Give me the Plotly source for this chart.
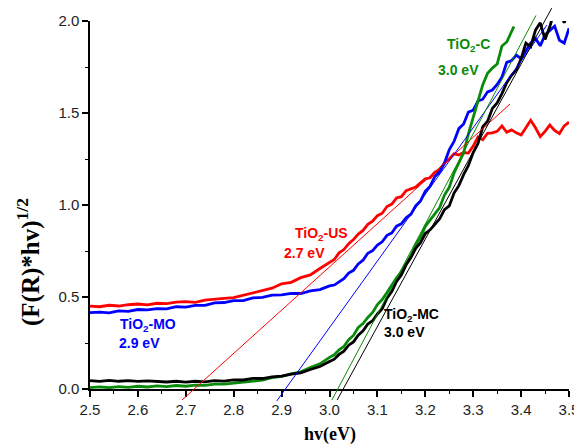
import plotly.graph_objects as go

# ---------------- data ----------------
red_x = [2.50, 2.52, 2.54, 2.56, 2.58, 2.60, 2.62, 2.64, 2.66, 2.68, 2.70, 2.72, 2.74, 2.76, 2.78,
         2.80, 2.82, 2.84, 2.86, 2.88, 2.90, 2.92, 2.94, 2.96, 2.98, 3.00, 3.01, 3.02, 3.03, 3.04,
         3.05, 3.06, 3.07, 3.08, 3.09, 3.10, 3.11, 3.12, 3.13, 3.14, 3.15, 3.16, 3.17, 3.18, 3.19,
         3.20, 3.21, 3.22, 3.23, 3.24, 3.25, 3.26, 3.27, 3.28, 3.29, 3.30, 3.31, 3.32, 3.33, 3.34,
         3.35, 3.36, 3.37, 3.38, 3.39, 3.40, 3.41, 3.42, 3.43, 3.44, 3.45, 3.46, 3.47, 3.48, 3.49, 3.50]
red_y = [0.450, 0.447, 0.455, 0.451, 0.458, 0.462, 0.457, 0.466, 0.464, 0.472, 0.475, 0.471, 0.483, 0.486, 0.492,
         0.497, 0.510, 0.522, 0.535, 0.548, 0.572, 0.580, 0.605, 0.620, 0.655, 0.690, 0.704, 0.740, 0.758, 0.790,
         0.812, 0.842, 0.862, 0.895, 0.912, 0.942, 0.955, 0.992, 1.005, 1.038, 1.045, 1.078, 1.086, 1.098, 1.120,
         1.142, 1.148, 1.178, 1.190, 1.228, 1.250, 1.278, 1.272, 1.285, 1.282, 1.320, 1.370, 1.355, 1.390, 1.392,
         1.400, 1.430, 1.395, 1.408, 1.392, 1.380, 1.420, 1.460, 1.420, 1.372, 1.400, 1.435, 1.405, 1.388, 1.430, 1.450]

blue_x = red_x
blue_y = [0.415, 0.418, 0.414, 0.425, 0.422, 0.432, 0.430, 0.437, 0.436, 0.447, 0.445, 0.455, 0.454, 0.468, 0.470,
          0.480, 0.480, 0.495, 0.498, 0.510, 0.512, 0.520, 0.519, 0.533, 0.540, 0.560, 0.565, 0.585, 0.600, 0.630,
          0.645, 0.680, 0.700, 0.738, 0.752, 0.782, 0.800, 0.835, 0.848, 0.885, 0.898, 0.930, 0.950, 0.995, 1.022,
          1.075, 1.102, 1.155, 1.180, 1.228, 1.300, 1.345, 1.415, 1.440, 1.505, 1.515, 1.565, 1.575, 1.615, 1.625,
          1.655, 1.695, 1.775, 1.785, 1.815, 1.795, 1.835, 1.880, 1.905, 1.865, 1.925, 1.950, 1.972, 1.895, 1.880, 1.960]

black_x = red_x
black_y = [0.045, 0.041, 0.047, 0.042, 0.046, 0.041, 0.044, 0.040, 0.038, 0.042, 0.037, 0.042, 0.039, 0.045, 0.043,
           0.050, 0.049, 0.058, 0.057, 0.066, 0.070, 0.081, 0.088, 0.106, 0.122, 0.150, 0.162, 0.188, 0.206, 0.238,
           0.256, 0.293, 0.316, 0.353, 0.371, 0.408, 0.436, 0.494, 0.530, 0.585, 0.620, 0.675, 0.714, 0.765, 0.795,
           0.845, 0.865, 0.895, 0.925, 0.975, 0.995, 1.065, 1.105, 1.165, 1.215, 1.285, 1.335, 1.425, 1.455, 1.525,
           1.555, 1.605, 1.665, 1.705, 1.735, 1.795, 1.880, 1.860, 1.950, 1.990, 1.900, 1.970, 2.060, 2.060, 1.990, 2.060]

green_x = red_x[:63] + [3.385]
green_y = [0.008, 0.012, 0.007, 0.013, 0.009, 0.015, 0.011, 0.017, 0.013, 0.019, 0.015, 0.021, 0.020, 0.026, 0.026,
           0.031, 0.034, 0.042, 0.048, 0.062, 0.068, 0.082, 0.093, 0.117, 0.137, 0.172, 0.186, 0.213, 0.231, 0.268,
           0.291, 0.334, 0.356, 0.389, 0.416, 0.459, 0.486, 0.524, 0.566, 0.604, 0.636, 0.684, 0.726, 0.784, 0.826,
           0.884, 0.916, 0.954, 0.986, 1.054, 1.096, 1.174, 1.226, 1.284, 1.386, 1.474, 1.566, 1.654, 1.716, 1.744,
           1.766, 1.864, 1.886, 1.970, 2.000]

# linear (tangent) fits: end points
fit_red_x, fit_red_y = [2.692, 3.377], [-0.06, 1.549]
fit_blue_x, fit_blue_y = [2.890, 3.454], [-0.065, 1.978]
fit_green_x, fit_green_y = [3.005, 3.431], [-0.06, 2.03]
fit_black_x, fit_black_y = [3.016, 3.464], [-0.06, 2.07]

x_ticks = [2.5, 2.6, 2.7, 2.8, 2.9, 3.0, 3.1, 3.2, 3.3, 3.4, 3.5]
y_ticks = [0.0, 0.5, 1.0, 1.5, 2.0]

RED, BLUE, BLACK, GREEN = "#ff0000", "#0000ff", "#000000", "#0a8a0a"

# ---------------- geometry (page body has an 8px margin) ----------------
OFF = 8
W, H = 582 - OFF, 444 - OFF
ax_l, ax_r = 90 - OFF, 569 - OFF      # x pixel of 2.5 and 3.5
top_px, bot_px = 21 - OFF, 389 - OFF  # y pixel of 2.0 and 0
ML, MR, MT, MB = ax_l, W - ax_r, 0, 36
paper_h = H - MT - MB
paper_bot = H - MB
d0 = (paper_bot - bot_px) / paper_h
d1 = (paper_bot - top_px) / paper_h
ppu = (bot_px - top_px) / 2.0
y2_lo = -(paper_bot - bot_px) / ppu
y2_hi = 2.0 + (top_px - MT) / ppu

fig = go.Figure()

for xs, ys, c in [(red_x, red_y, RED), (blue_x, blue_y, BLUE),
                  (green_x, green_y, GREEN), (black_x, black_y, BLACK)]:
    fig.add_trace(go.Scatter(x=xs, y=ys, mode="lines", line=dict(color=c, width=2.8),
                             showlegend=False, hoverinfo="skip", xaxis="x", yaxis="y"))

for xs, ys, c in [(fit_red_x, fit_red_y, RED), (fit_blue_x, fit_blue_y, BLUE),
                  (fit_green_x, fit_green_y, GREEN), (fit_black_x, fit_black_y, BLACK)]:
    fig.add_trace(go.Scatter(x=xs, y=ys, mode="lines", line=dict(color=c, width=1),
                             showlegend=False, hoverinfo="skip", xaxis="x2", yaxis="y2"))

tickfont = dict(family="Liberation Sans, Arial, sans-serif", size=15, color="#222222")
fig.update_layout(
    width=W, height=H,
    margin=dict(l=ML, r=MR, t=MT, b=MB, pad=0),
    paper_bgcolor="white", plot_bgcolor="rgba(0,0,0,0)",
    xaxis=dict(range=[2.5, 3.5], domain=[0, 1], anchor="y", tickvals=x_ticks, automargin=False,
               tickformat=".1f", ticks="outside", ticklen=6, tickwidth=1.5, tickcolor="black",
               showline=True, linecolor="black", linewidth=1.5, showgrid=False, zeroline=False,
               tickfont=tickfont,
               minor=dict(dtick=0.05, ticks="outside", ticklen=3, tickwidth=1.2, tickcolor="black")),
    yaxis=dict(range=[0, 2.0], domain=[d0, d1], anchor="x", tickvals=y_ticks, automargin=False,
               tickformat=".1f", ticks="outside", ticklen=6, tickwidth=1.5, tickcolor="black",
               showline=True, linecolor="black", linewidth=1.5, showgrid=False, zeroline=False,
               tickfont=tickfont,
               minor=dict(dtick=0.25, ticks="outside", ticklen=3, tickwidth=1.2, tickcolor="black")),
    xaxis2=dict(range=[2.5, 3.5], domain=[0, 1], anchor="y2", visible=False, automargin=False),
    yaxis2=dict(range=[y2_lo, y2_hi], domain=[0, 1], anchor="x2", visible=False, automargin=False),
)

def px2x(px):
    return 2.5 + (px - OFF - ax_l) / (ax_r - ax_l)

def py2y(py):
    return (bot_px - (py - OFF)) / ppu

def px2paper(px):
    return (px - OFF - ML) / (W - ML - MR)

def py2paper(py):
    return (paper_bot - (py - OFF)) / paper_h

lab_font = "Liberation Sans, Arial, sans-serif"
# label positions given in reference-window pixels
labels = [
    ("TiO<sub>2</sub>-C", 445, 45, GREEN), ("3.0 eV", 436, 70, GREEN),
    ("TiO<sub>2</sub>-US", 293, 234, RED), ("2.7 eV", 282, 253, RED),
    ("TiO<sub>2</sub>-MO", 118, 325, BLUE), ("2.9 eV", 117, 343, BLUE),
    ("TiO<sub>2</sub>-MC", 382, 315, BLACK), ("3.0 eV", 382, 332, BLACK),
]
for txt, lx, ly, c in labels:
    fig.add_annotation(x=px2x(lx), y=py2y(ly), xref="x", yref="y", text="<b>" + txt + "</b>",
                       showarrow=False, xanchor="left", yanchor="middle",
                       font=dict(family=lab_font, size=14, color=c))

# axis titles
fig.add_annotation(x=px2paper(330), y=py2paper(434), xref="paper", yref="paper",
                   text="<b>hv(eV)</b>", showarrow=False, xanchor="center", yanchor="middle",
                   font=dict(family="Liberation Serif, Times New Roman, serif", size=18, color="black"))
fig.add_annotation(x=px2paper(28), y=py2paper(262), xref="paper", yref="paper",
                   text="<b>(F(R)*hv)<sup>1/2</sup></b>", showarrow=False, textangle=-90,
                   xanchor="center", yanchor="middle",
                   font=dict(family="Liberation Serif, Times New Roman, serif", size=25, color="black"))

fig.write_html("out.html")
